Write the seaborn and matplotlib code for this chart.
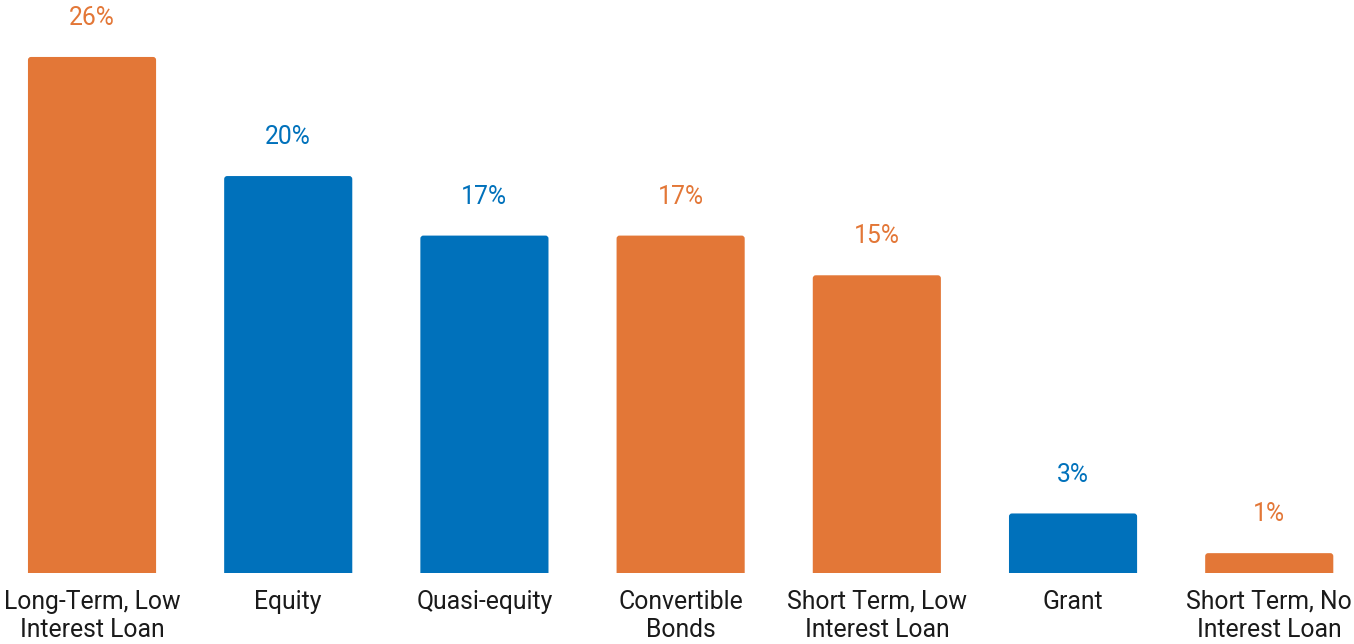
import matplotlib
matplotlib.use("Agg")
import matplotlib.pyplot as plt
from matplotlib.patches import FancyBboxPatch
import seaborn as sns
import pandas as pd

categories = [
    "Long-Term, Low\nInterest Loan",
    "Equity",
    "Quasi-equity",
    "Convertible\nBonds",
    "Short Term, Low\nInterest Loan",
    "Grant",
    "Short Term, No\nInterest Loan",
]
shares = [26, 20, 17, 17, 15, 3, 1]
ORANGE = "#E37737"
BLUE = "#0071BB"
bar_colors = [ORANGE, BLUE, BLUE, ORANGE, ORANGE, BLUE, ORANGE]

df = pd.DataFrame({"category": categories, "share": shares})

sns.set_theme(style="white")
plt.rcParams["font.family"] = ["Roboto", "DejaVu Sans"]

fig = plt.figure(figsize=(13.54, 6.44), dpi=100)
ax = fig.add_axes([0, 71 / 644, 1, 573 / 644])

sns.barplot(data=df, x="category", y="share", hue="category",
            palette=bar_colors, width=0.653, legend=False, ax=ax,
            saturation=1)

ax.set_xlim(-0.469, 6.432)
ax.set_ylim(0, 28.87)

# swap the plain rectangles for bars with softly rounded tops; each bar
# extends a little below zero so the axes clip its lower corners square
rx = 3 / 196.2
ry = 3 / 19.85
for patch, color in zip(list(ax.patches), bar_colors):
    x, y = patch.get_x(), patch.get_y()
    w, h = patch.get_width(), patch.get_height()
    patch.set_visible(False)
    ax.add_patch(FancyBboxPatch((x, y - 3 * ry), w, h + 3 * ry,
                                boxstyle=f"round,pad=0,rounding_size={rx}",
                                mutation_aspect=ry / rx,
                                facecolor=color, edgecolor="none"))

for i, (v, c) in enumerate(zip(shares, bar_colors)):
    ax.annotate(f"{v}%", xy=(i, v), xytext=(0, 23), textcoords="offset points",
                ha="center", va="baseline", fontsize=17.8, color=c)

ax.set_xlabel("")
ax.set_ylabel("")
ax.set_yticks([])
ax.tick_params(axis="x", length=0, pad=12, labelsize=17.8, labelcolor="#1a1a1a")
for lbl in ax.get_xticklabels():
    lbl.set_linespacing(1.25)
for s in ax.spines.values():
    s.set_visible(False)

fig.savefig("out.png", dpi=100)
